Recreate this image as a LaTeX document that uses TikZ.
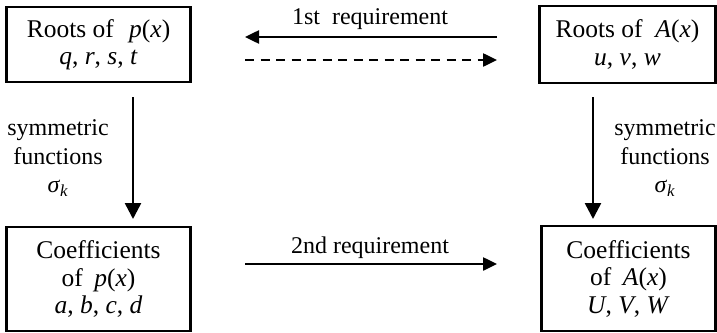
\documentclass[tikz,border=0pt]{standalone}
\usepackage{fontspec}
\setmainfont{Liberation Serif}
\usetikzlibrary{arrows.meta}
\tikzset{
  box/.style={draw, line width=2.6pt, align=center, font=\fontsize{25.5}{27.5}\selectfont, inner sep=0pt},
  lbl/.style={align=center, font=\fontsize{24}{28.5}\selectfont, inner sep=0pt},
  arr/.style={line width=2.5pt, -{Triangle[length=14pt,width=13pt]}},
  varr/.style={line width=2.5pt, -{Triangle[length=16pt,width=16pt]}},
  dsh/.style={dash pattern=on 9pt off 6.5pt}
}
\newcommand{\iv}[1]{\textit{#1}}
\begin{document}
\begin{tikzpicture}[x=1pt,y=-1pt]
\useasboundingbox (0,0) rectangle (717,332);
\node[box, minimum width=184pt, minimum height=75pt] (rp) at (98.5,44.5) {Roots of\hspace{0.6em}\iv{p}(\iv{x})\\ \iv{q}, \iv{r}, \iv{s}, \iv{t}};
\node[box, minimum width=176pt, minimum height=77pt] (ra) at (627.5,44.5) {Roots of\hspace{0.5em}\iv{A}(\iv{x})\\ \iv{u}, \iv{v}, \iv{w}};
\node[box, minimum width=184pt, minimum height=104pt] (cp) at (98.5,279) {Coefficients\\ of\hspace{0.45em}\iv{p}(\iv{x})\\ \iv{a}, \iv{b}, \iv{c}, \iv{d}};
\node[box, minimum width=174pt, minimum height=105pt] (ca) at (628.5,278.5) {Coefficients\\ of\hspace{0.45em}\iv{A}(\iv{x})\\ \iv{U}, \iv{V}, \iv{W}};
\coordinate (t1s) at (497,37);
\coordinate (t1e) at (245,37);
\coordinate (t2s) at (245,60);
\coordinate (t2e) at (497,60);
\coordinate (b1s) at (245,264);
\coordinate (b1e) at (497,264);
\coordinate (l1s) at (133,97);
\coordinate (l1e) at (133,219);
\coordinate (r1s) at (593,97);
\coordinate (r1e) at (593,219);
\draw[arr] (t1s) -- (t1e);
\draw[arr, dsh] (t2s) -- (t2e);
\draw[arr] (b1s) -- (b1e);
\draw[varr] (l1s) -- (l1e);
\draw[varr] (r1s) -- (r1e);
\node[lbl] (lab1) at (370,19) {1st\hspace{0.5em}requirement};
\node[lbl] (lab2) at (370,248) {2nd requirement};
\node[lbl] (symL) at (58,158) {symmetric\\ functions\\ \iv{σ}\textsubscript{\iv{k}}};
\node[lbl] (symR) at (665,158) {symmetric\\ functions\\ \iv{σ}\textsubscript{\iv{k}}};
\end{tikzpicture}
\end{document}
